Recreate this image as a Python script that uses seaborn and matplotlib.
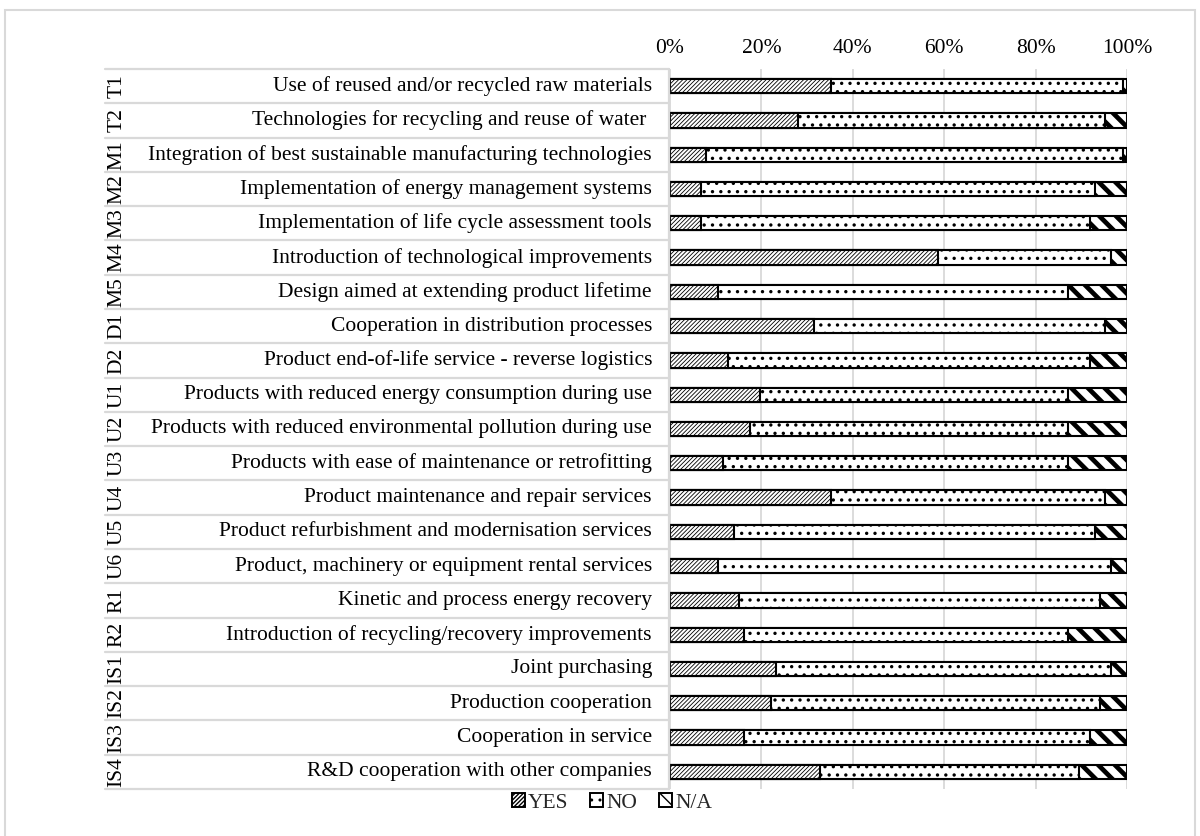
import matplotlib
matplotlib.use("Agg")
import matplotlib.pyplot as plt
from matplotlib.lines import Line2D
from matplotlib.patches import Patch, Rectangle
from matplotlib.transforms import blended_transform_factory
import seaborn as sns
import pandas as pd

codes = ["T1", "T2", "M1", "M2", "M3", "M4", "M5", "D1", "D2", "U1", "U2",
         "U3", "U4", "U5", "U6", "R1", "R2", "IS1", "IS2", "IS3", "IS4"]
descriptions = [
    "Use of reused and/or recycled raw materials",
    "Technologies for recycling and reuse of water ",
    "Integration of best sustainable manufacturing technologies",
    "Implementation of energy management systems",
    "Implementation of life cycle assessment tools",
    "Introduction of technological improvements",
    "Design aimed at extending product lifetime",
    "Cooperation in distribution processes",
    "Product end-of-life service - reverse logistics",
    "Products with reduced energy consumption during use",
    "Products with reduced environmental pollution during use",
    "Products with ease of maintenance or retrofitting",
    "Product maintenance and repair services",
    "Product refurbishment and modernisation services",
    "Product, machinery or equipment rental services",
    "Kinetic and process energy recovery",
    "Introduction of recycling/recovery improvements",
    "Joint purchasing",
    "Production cooperation",
    "Cooperation in service",
    "R&D cooperation with other companies",
]
yes_pct = [35.2, 27.9, 7.9, 6.8, 6.8, 58.6, 10.4, 31.6, 12.8, 19.7, 17.4,
           11.5, 35.2, 13.9, 10.4, 15.1, 16.3, 23.3, 22.1, 16.3, 32.8]
no_pct = [64.0, 67.3, 91.3, 86.2, 85.1, 38.0, 76.6, 63.6, 79.0, 67.3, 69.6,
          75.5, 60.0, 79.1, 86.1, 79.0, 70.7, 73.2, 72.0, 75.5, 56.6]
na_pct = [round(100 - y - n, 1) for y, n in zip(yes_pct, no_pct)]
categories = ["YES", "NO", "N/A"]
tick_labels = ["0%", "20%", "40%", "60%", "80%", "100%"]

df = pd.DataFrame({"code": codes, "YES": yes_pct, "NO": no_pct, "N/A": na_pct})
df["cum_yes"] = df["YES"]
df["cum_no"] = df["YES"] + df["NO"]
df["cum_na"] = df["YES"] + df["NO"] + df["N/A"]

sns.set_theme(style="white")
plt.rcParams["font.family"] = ["Liberation Serif", "DejaVu Serif"]
plt.rcParams["hatch.color"] = "black"

W, H = 1200, 836
fig = plt.figure(figsize=(W / 100, H / 100), dpi=100)
ax_l, ax_r, ax_t, ax_b = 670, 1127, 69, 789
ax = fig.add_axes([ax_l / W, 1 - ax_b / H, (ax_r - ax_l) / W, (ax_b - ax_t) / H])

hatches = {"cum_na": "\\\\", "cum_no": "..", "cum_yes": "////////"}
hatch_lw = {"cum_na": 3.4, "cum_no": 1.2, "cum_yes": 0.6}
# Stack by overdrawing cumulative totals: N/A (full length), then NO, then YES
for col in ["cum_na", "cum_no", "cum_yes"]:
    before = len(ax.patches)
    sns.barplot(data=df, x=col, y="code", orient="h", color="white",
                edgecolor="black", linewidth=1.5, width=0.42, ax=ax,
                order=codes)
    for p in ax.patches[before:]:
        p.set_facecolor("white")
        p.set_hatch(hatches[col])
        if hasattr(p, "set_hatch_linewidth"):
            p.set_hatch_linewidth(hatch_lw[col])

ax.set_xlim(0, 100)
ax.set_ylim(len(codes) - 0.5, -0.5)
ax.set_xticks([0, 20, 40, 60, 80, 100])
ax.set_xticklabels(tick_labels)
ax.xaxis.tick_top()
ax.tick_params(axis="x", length=0, pad=8, labelsize=15.5, colors="black")
ax.set_yticks([])
ax.set_xlabel("")
ax.set_ylabel("")
for s in ax.spines.values():
    s.set_visible(False)
ax.set_axisbelow(True)
ax.grid(axis="x", color="#d9d9d9", linewidth=1.3)
ax.grid(axis="y", visible=False)

# Label table on the left of the bars
tr = blended_transform_factory(fig.transFigure, ax.transData)
grey = "#d9d9d9"
for i, (c, d) in enumerate(zip(codes, descriptions)):
    ax.text(652 / W, i, d, transform=tr, ha="right", va="center",
            fontsize=15.5, color="black", clip_on=False)
    ax.text(117 / W, i, c, transform=tr, ha="center", va="center",
            rotation=90, fontsize=15.5, color="black", clip_on=False)
for i in range(len(codes) + 1):
    y = i - 0.5
    ax.add_line(Line2D([105 / W, 669 / W], [y, y], transform=tr,
                       color=grey, linewidth=1.6, clip_on=False))
ax.add_line(Line2D([669 / W, 669 / W], [-0.5, len(codes) - 0.5],
                   transform=tr, color=grey, linewidth=1.6, clip_on=False))

# Legend
handles = []
for lab, col in zip(categories, ["cum_yes", "cum_no", "cum_na"]):
    h = Patch(facecolor="white", edgecolor="black", hatch=hatches[col],
              linewidth=1.4, label=lab)
    handles.append(h)
leg = fig.legend(handles=handles, loc="center",
                 bbox_to_anchor=(612 / W, 1 - 803 / H), ncol=3, frameon=False,
                 fontsize=15.5, handlelength=0.6, handleheight=0.6,
                 handletextpad=0.15, columnspacing=1.0)

# Chart border
fig.patches.append(Rectangle((5 / W, -0.01), 1190 / W, 1.01 - 10 / H,
                             transform=fig.transFigure, fill=False,
                             edgecolor=grey, linewidth=1.5))

fig.savefig("out.png", dpi=100, facecolor="white")
